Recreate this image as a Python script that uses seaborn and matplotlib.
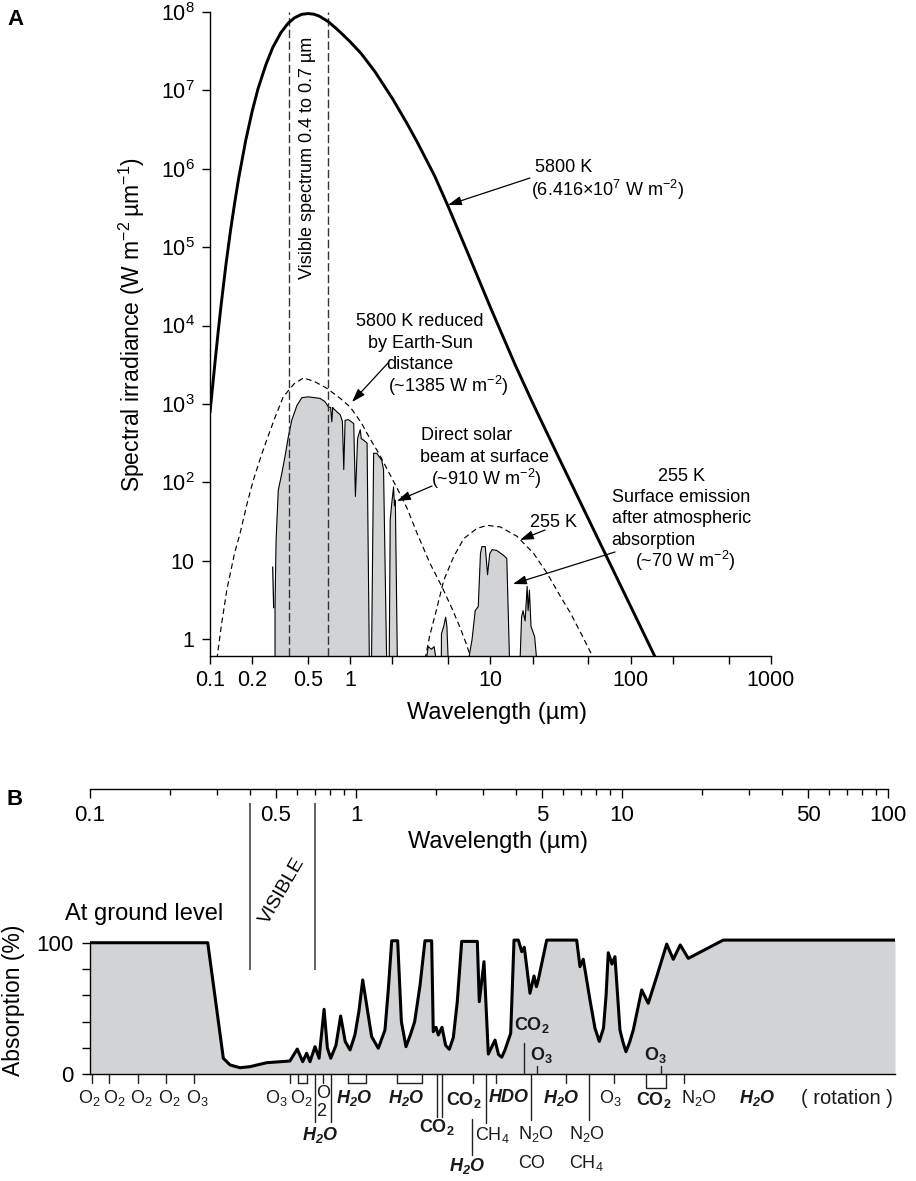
import matplotlib
matplotlib.use("Agg")
import matplotlib.pyplot as plt
from matplotlib.ticker import NullFormatter, NullLocator
from matplotlib.transforms import blended_transform_factory
import seaborn as sns

# ---------------- Panel A data (wavelength in um, irradiance W m-2 um-1) ----------------
bb5800_wl = [0.100, 0.105, 0.110, 0.115, 0.120, 0.130, 0.140, 0.150, 0.160, 0.180,
             0.200, 0.220, 0.250, 0.280, 0.320, 0.360, 0.400, 0.450, 0.500, 0.550,
             0.600, 0.700, 0.800, 0.900, 1.00, 1.20, 1.50, 2.00, 2.50, 3.00,
             4.00, 5.00, 7.00, 10.0, 15.0, 20.0, 30.0, 50.0, 75.0, 100.0, 150.0]
bb5800_val = [776, 1862, 4266, 9120, 1.82e4, 6.03e4, 1.62e5, 3.67e5, 7.50e5, 2.32e6,
              5.43e6, 1.047e7, 2.11e7, 3.51e7, 5.43e7, 7.16e7, 8.41e7, 9.33e7, 9.55e7, 9.38e7,
              8.89e7, 7.50e7, 6.10e7, 5.01e7, 4.17e7, 2.94e7, 1.74e7, 7.89e6, 3.99e6, 2.21e6,
              8.13e5, 3.31e5, 7.93e4, 1.71e4, 3177, 1035, 226.5, 34.2, 7.62, 2.63, 0.586]

sun_toa_wl = [0.112, 0.120, 0.132, 0.150, 0.164, 0.185, 0.204, 0.230, 0.254, 0.290,
              0.333, 0.400, 0.464, 0.550, 0.680, 0.850, 1.00, 1.20, 1.39, 1.60,
              1.82, 2.20, 2.54, 3.00, 3.70, 4.50, 5.30, 6.10, 6.70, 7.30]
sun_toa_val = [0.55, 1.41, 4.3, 12.6, 22.4, 56, 107, 209, 347, 661,
               1230, 1820, 2140, 1950, 1585, 1175, 912, 575, 355, 234,
               151, 79, 47, 22.4, 9.3, 4.7, 2.5, 1.38, 0.89, 0.56]

earth_wl = [3.42, 3.70, 4.07, 4.65, 5.47, 6.46, 8.0, 9.5, 11.8, 15.5, 20.4, 25.4, 31.6, 37.3, 45.0, 55.0]
earth_val = [0.55, 1.12, 2.14, 5.6, 11.2, 19.1, 25.7, 28.2, 26.9, 20.4, 12.3, 6.9, 3.5, 2.14, 1.12, 0.55]

beam_wl = [0.291, 0.291, 0.296, 0.307, 0.325, 0.343, 0.362, 0.383, 0.417, 0.452,
           0.503, 0.610, 0.660, 0.700, 0.725, 0.740, 0.750, 0.760, 0.800, 0.850,
           0.880, 0.900, 0.920, 0.970, 1.060, 1.090, 1.130, 1.180, 1.200, 1.240,
           1.320, 1.370, 1.420, 1.470, 1.550, 1.680, 1.730, 1.820, 1.900, 1.930,
           1.980, 2.040, 2.070, 2.100, 2.170]
beam_val = [0.55, 2.6, 18, 79, 129, 214, 380, 617, 955, 1200,
            1230, 1175, 1070, 912, 900, 590, 900, 870, 800, 724,
            600, 145, 617, 630, 562, 66, 363, 468, 360, 347,
            316, 0.55, 0.55, 234, 234, 190, 145, 0.55, 0.55, 33,
            54, 87, 50, 59, 0.55]

uv_spike_wl = [0.280, 0.2846]
uv_spike_val = [8.3, 2.5]

ir_a_wl = [3.50, 3.60, 3.80, 3.97, 4.10]
ir_a_val = [0.55, 0.80, 0.74, 0.80, 0.55]
ir_b_wl = [4.47, 4.48, 4.65, 4.80, 4.90, 5.00]
ir_b_val = [0.55, 1.17, 1.45, 1.90, 1.45, 0.55]
ir_c_wl = [7.0, 7.4, 7.8, 8.2, 8.5, 8.7, 9.2, 9.55, 9.9, 10.3, 11.1, 12.4, 13.1, 13.7]
ir_c_val = [0.55, 0.98, 2.3, 2.6, 12.3, 15.1, 15.1, 6.6, 12.3, 13.8, 13.5, 11.7, 10.7, 0.55]
ir_d_wl = [16.3, 16.7, 17.1, 17.7, 18.3, 18.6, 19.0, 19.5, 20.7, 21.4]
ir_d_val = [0.55, 1.9, 2.3, 1.7, 4.7, 2.3, 4.2, 1.45, 1.07, 0.55]

visible_A = [0.365, 0.69]

A_xticks = [0.1, 0.2, 0.5, 1, 10, 100, 1000]
A_xticklabels = ["0.1", "0.2", "0.5", "1", "10", "100", "1000"]
A_xminor = [2, 5, 20, 50, 200, 500]
A_yticks = [1, 10, 1e2, 1e3, 1e4, 1e5, 1e6, 1e7, 1e8]
A_yticklabels = ["1", "10", "10$^2$", "10$^3$", "10$^4$", "10$^5$", "10$^6$", "10$^7$", "10$^8$"]

# ---------------- Panel B data (absorption %) ----------------
B_wl = [0.100, 0.277, 0.317, 0.336, 0.366, 0.399, 0.461, 0.564, 0.601, 0.630,
        0.652, 0.671, 0.701, 0.726, 0.758, 0.780, 0.803, 0.840, 0.875, 0.910,
        0.949, 0.990, 1.025, 1.059, 1.144, 1.212, 1.284, 1.321, 1.361, 1.433,
        1.480, 1.540, 1.600, 1.660, 1.740, 1.815, 1.923, 1.950, 1.997, 2.037,
        2.103, 2.170, 2.240, 2.320, 2.400, 2.494, 2.855, 2.904, 3.025, 3.140,
        3.327, 3.430, 3.526, 3.620, 3.811, 3.922, 4.071, 4.193, 4.288, 4.503,
        4.662, 4.763, 4.838, 5.204, 6.745, 6.941, 7.142, 7.568, 7.903, 8.204,
        8.505, 8.700, 8.866, 9.156, 9.395, 9.810, 10.05, 10.33, 10.65, 11.01,
        11.84, 12.53, 13.48, 14.70, 15.56, 16.53, 17.72, 23.98, 106.0]
B_abs = [100, 100, 12.2, 7.1, 5.0, 5.8, 8.8, 10.1, 19.2, 9.6,
         16.0, 9.6, 21.0, 12.2, 49.4, 20.0, 12.2, 22.0, 44.3, 25.0,
         18.5, 30.0, 48.0, 71.7, 28.6, 19.8, 33.7, 64.0, 101.5, 101.5,
         40.0, 21.0, 30.0, 40.0, 68.0, 101.5, 101.5, 32.4, 35.7, 29.9,
         35.7, 22.0, 19.0, 28.0, 55.0, 101.0, 101.0, 55.2, 85.6, 15.4,
         26.0, 15.0, 13.0, 18.0, 31.2, 102, 102, 93.2, 96.5, 61.6,
         74.7, 66.6, 71.7, 102, 102, 81.8, 87.4, 56.5, 35.0, 25.0,
         35.0, 60.0, 92.4, 83.8, 89.4, 33.7, 25.0, 17.2, 24.0, 33.7,
         64.1, 54.0, 74.2, 99.0, 87.4, 98.3, 88.1, 102, 102]

visible_B = [0.4, 0.7]
B_top_ticks = [0.1, 0.5, 1, 5, 10, 50, 100]
B_top_ticklabels = ["0.1", "0.5", "1", "5", "10", "50", "100"]
B_top_minor = [0.2, 0.3, 0.4, 0.6, 0.7, 0.8, 0.9, 2, 3, 4, 6, 7, 8, 9, 20, 30, 40, 60, 70, 80, 90]
B_yticks = [0, 20, 40, 60, 80, 100]
B_yticklabels = ["0", "", "", "", "", "100"]

# band marker positions (um) under panel B
B_short_marks = [0.1015, 0.1182, 0.1511, 0.1930, 0.2466, 0.5643, 0.6066, 0.6522, 0.7527,
                 0.935, 1.089, 1.421, 1.764, 2.743, 3.346, 6.135, 9.340, 17.07]
B_long_marks = [0.701, 0.8027, 2.009, 2.098, 3.069, 4.554, 7.523]
B_long_ends = [1121.7, 1121.7, 1116.7, 1116.7, 1123.3, 1120, 1120]
B_bracket_pairs = [(0.6066, 0.6522), (0.935, 1.089), (1.421, 1.764)]
B_co2_bracket = (12.29, 14.61)
B_up_marks = [4.288, 4.772, 13.95]
B_up_tops = [1043.3, 1066, 1066]
B_sep_mark = 2.734

# ---------------- style ----------------
sns.set_theme(style="ticks")
plt.rcParams.update({
    "font.family": ["Liberation Sans", "DejaVu Sans"],
    "mathtext.fontset": "custom",
    "mathtext.rm": "Liberation Sans",
    "mathtext.it": "Liberation Sans:italic",
    "mathtext.bf": "Liberation Sans:bold",
    "mathtext.default": "regular",
    "text.color": "black",
    "axes.labelcolor": "black",
    "axes.edgecolor": "black",
    "xtick.color": "black",
    "ytick.color": "black",
    "lines.scale_dashes": False,
})

W, H = 916, 1181
fig = plt.figure(figsize=(W / 100, H / 100), dpi=100)
GRAY = "#d1d3d4"


def fr(x, y):
    return (x / W, 1 - y / H)


def ftext(x, y, s, size=13, ha="center", va="center", **kw):
    fig.text(x / W, 1 - y / H, s, fontsize=size, ha=ha, va=va, **kw)


# ================= Panel A =================
axA = fig.add_axes([210 / W, 1 - 656 / H, 560.7 / W, 644 / H])
axA.set_xscale("log")
axA.set_yscale("log")

for wl, val in [(beam_wl, beam_val), (ir_a_wl, ir_a_val), (ir_b_wl, ir_b_val),
                (ir_c_wl, ir_c_val), (ir_d_wl, ir_d_val)]:
    axA.fill(wl, val, facecolor=GRAY, edgecolor="none", zorder=1)
    sns.lineplot(x=wl, y=val, ax=axA, color="black", lw=0.8, sort=False,
                 estimator=None, zorder=2, legend=False)
sns.lineplot(x=uv_spike_wl, y=uv_spike_val, ax=axA, color="black", lw=0.9,
             sort=False, estimator=None, zorder=2, legend=False)

for v in visible_A:
    axA.axvline(v, color="#333333", lw=1.0, ls=(0, (6, 2.4)), zorder=3)

sns.lineplot(x=sun_toa_wl, y=sun_toa_val, ax=axA, color="black", lw=0.85,
             linestyle=(0, (4, 2.6)), sort=False, estimator=None, zorder=3, legend=False)
sns.lineplot(x=earth_wl, y=earth_val, ax=axA, color="black", lw=0.85,
             linestyle=(0, (4, 2.6)), sort=False, estimator=None, zorder=3, legend=False)
sns.lineplot(x=bb5800_wl, y=bb5800_val, ax=axA, color="black", lw=2.1,
             sort=False, estimator=None, zorder=4, legend=False)

axA.set_xlim(0.1, 1000)
axA.set_ylim(0.607, 1e8)
axA.set_xticks(A_xticks)
axA.set_xticklabels(A_xticklabels)
axA.set_xticks(A_xminor, minor=True)
axA.xaxis.set_minor_formatter(NullFormatter())
axA.set_yticks(A_yticks)
axA.set_yticklabels(A_yticklabels)
axA.yaxis.set_minor_locator(NullLocator())
axA.tick_params(axis="both", which="both", direction="out", length=6, width=1.0,
                labelsize=15.5)
axA.tick_params(axis="x", pad=4)
axA.tick_params(axis="y", pad=5)
for s in ["top", "right"]:
    axA.spines[s].set_visible(False)
for s in ["left", "bottom"]:
    axA.spines[s].set_linewidth(1.0)

axA.set_xlabel("Wavelength (\u00b5m)", fontsize=17)
axA.xaxis.set_label_coords(0.512, -0.071)
axA.set_ylabel("Spectral irradiance (W m$^{-2}$\u2009\u00b5m$^{-1}$)", fontsize=16.5)
axA.yaxis.set_label_coords(-0.112, 0.514)

# annotations panel A
ftext(15, 19.5, "A", size=16, fontweight="bold")
ftext(308, 158, "Visible spectrum 0.4 to 0.7 \u00b5m", size=13, rotation=90)
ftext(535, 168, "5800 K", ha="left")
ftext(531, 190, "(6.416\u00d710$^7$ W m$^{-2}$)", ha="left")
ftext(420, 322, "5800 K reduced")
ftext(420, 343.5, "by Earth-Sun")
ftext(420, 365, "distance")
ftext(388, 386, "(~1385 W m$^{-2}$)", ha="left")
ftext(466.7, 436, "Direct solar")
ftext(485, 458, "beam at surface")
ftext(486.5, 478.5, "(~910 W m$^{-2}$)")
ftext(553.5, 522, "255 K")
ftext(681.7, 477, "255 K")
ftext(611.7, 497, "Surface emission", ha="left")
ftext(611.7, 518.5, "after atmospheric", ha="left")
ftext(611.7, 540.5, "absorption", ha="left")
ftext(635, 561, "(~70 W m$^{-2}$)", ha="left")


def arrow(x0, y0, x1, y1):
    axA.annotate("", xy=fr(x1, y1), xytext=fr(x0, y0), xycoords="figure fraction",
                 textcoords="figure fraction", annotation_clip=False,
                 arrowprops=dict(arrowstyle="-|>,head_length=0.9,head_width=0.3",
                                 color="black", lw=0.9, shrinkA=0, shrinkB=0,
                                 mutation_scale=9))


arrow(530, 178, 448, 205)
arrow(388, 363, 352, 402)
arrow(432, 486, 397, 501)
arrow(545, 530, 520, 540)
arrow(615, 552, 513, 584)

# ================= Panel B =================
B_top, B_bot = 789.3, 1074.3
axB = fig.add_axes([90 / W, 1 - B_bot / H, 805 / W, (B_bot - B_top) / H])
axB.set_xscale("log")
axB.fill_between(B_wl, B_abs, 0, color=GRAY, lw=0, zorder=1)
sns.lineplot(x=B_wl, y=B_abs, ax=axB, color="black", lw=2.2, sort=False,
             estimator=None, zorder=3, legend=False)
axB.vlines(visible_B, 79.3, 205.9, color="#555555", lw=1.3, zorder=2)
axB.set_xlim(0.1, 106)
axB.set_ylim(0, 216.6)
axB.xaxis.set_major_locator(NullLocator())
axB.xaxis.set_minor_locator(NullLocator())
axB.set_yticks(B_yticks)
axB.set_yticklabels(B_yticklabels)
axB.tick_params(axis="y", direction="out", length=6, width=1.0, labelsize=16, pad=6)
for s in ["top", "right"]:
    axB.spines[s].set_visible(False)
axB.spines["left"].set_bounds(0, 100)
axB.spines["left"].set_linewidth(1.0)
axB.spines["bottom"].set_linewidth(1.0)
axB.set_ylabel("Absorption (%)", fontsize=16.5)
axB.yaxis.set_label_coords(-0.081, 0.26)

# top wavelength scale
axT = fig.add_axes([90 / W, 1 - B_top / H, 805 / W, 0.0001])
axT.set_xscale("log")
axT.set_xlim(0.1, 106)
axT.patch.set_visible(False)
for s in ["top", "right", "left"]:
    axT.spines[s].set_visible(False)
axT.spines["bottom"].set_bounds(0.1, 100)
axT.spines["bottom"].set_linewidth(1.0)
axT.set_yticks([])
axT.set_xticks(B_top_ticks)
axT.set_xticklabels(B_top_ticklabels)
axT.set_xticks(B_top_minor, minor=True)
axT.xaxis.set_minor_formatter(NullFormatter())
axT.tick_params(axis="x", which="major", direction="out", length=6.5, width=1.0,
                labelsize=16, pad=5)
axT.tick_params(axis="x", which="minor", direction="out", length=4.2, width=1.0)
ftext(498, 842, "Wavelength (\u00b5m)", size=17)

ftext(14.5, 799.5, "B", size=16, fontweight="bold")
ftext(144, 914, "At ground level", size=17)
ftext(282, 891, "VISIBLE", size=14, rotation=60)

# band marks beneath panel B
trB = blended_transform_factory(axB.transData, axB.transAxes)


def yf(py):
    return (B_bot - py) / (B_bot - B_top)


mk = dict(color="#222222", lw=1.0, transform=trB, clip_on=False, zorder=5)
for m in B_short_marks:
    axB.plot([m, m], [yf(B_bot), yf(1083.3)], **mk)
for m, e in zip(B_long_marks, B_long_ends):
    axB.plot([m, m], [yf(B_bot), yf(e)], **mk)
for a, b in B_bracket_pairs:
    axB.plot([a, b], [yf(1083.3), yf(1083.3)], **mk)
axB.plot([B_co2_bracket[0], B_co2_bracket[0], B_co2_bracket[1], B_co2_bracket[1]],
         [yf(B_bot), yf(1087.7), yf(1087.7), yf(B_bot)], **mk)
for m, t in zip(B_up_marks, B_up_tops):
    axB.plot([m, m], [yf(B_bot), yf(t)], **mk)
axB.plot([B_sep_mark, B_sep_mark], [yf(1119.3), yf(1155)], **mk)

labels_B = [
    (89, 1098, "O$_2$", "n"), (114, 1098, "O$_2$", "n"), (141, 1098, "O$_2$", "n"),
    (169, 1098, "O$_2$", "n"), (197, 1098, "O$_3$", "n"),
    (276.7, 1098, "O$_3$", "n"), (301.7, 1098, "O$_2$", "n"),
    (323.3, 1093, "O", "n"), (321.5, 1111.7, "2", "n"),
    (320, 1135, "H$_2$O", "bi"), (354.5, 1098, "H$_2$O", "bi"), (405.7, 1098, "H$_2$O", "bi"),
    (436.5, 1127.3, "CO$_2$", "b"), (464, 1100, "CO$_2$", "b"), (492.5, 1135, "CH$_4$", "n"),
    (467.5, 1166, "H$_2$O", "bi"), (508.3, 1098, "HDO", "bi"), (535.8, 1134, "N$_2$O", "n"),
    (531.7, 1163, "CO", "n"), (561.2, 1098, "H$_2$O", "bi"), (587.3, 1134, "N$_2$O", "n"),
    (586.7, 1163, "CH$_4$", "n"), (610, 1098, "O$_3$", "n"), (653.7, 1100, "CO$_2$", "b"),
    (698.8, 1098, "N$_2$O", "n"), (757.5, 1098, "H$_2$O", "bi"),
    (531.7, 1025, "CO$_2$", "b"), (541.7, 1055, "O$_3$", "b"), (655, 1055, "O$_3$", "b"),
]
for x, y, s, kind in labels_B:
    kw = {}
    if kind == "b":
        kw["fontweight"] = "bold"
    elif kind == "bi":
        kw["fontweight"] = "bold"
        kw["fontstyle"] = "italic"
    ftext(x, y, s, size=13, color="#1a1a1a", **kw)
ftext(846.7, 1098, "( rotation )", size=14.5, color="#1a1a1a")

fig.savefig("out.png", dpi=100)
